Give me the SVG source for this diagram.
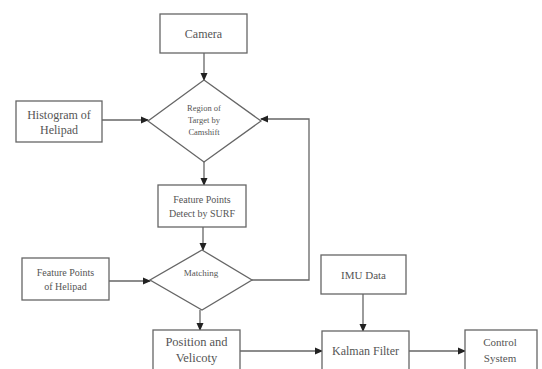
<svg xmlns="http://www.w3.org/2000/svg" width="542" height="369" viewBox="0 0 542 369">
<defs>
<style>
.b{fill:#fff;stroke:#666;stroke-width:1.3}
.t{font-family:'Times New Roman','Liberation Serif',serif;fill:#555;text-anchor:middle}
.c{fill:none;stroke:#666;stroke-width:1.3}
</style>
<marker id="a" markerWidth="8" markerHeight="8" refX="7" refY="4" orient="auto" markerUnits="userSpaceOnUse">
<path d="M0,0.5 L8,4 L0,7.5 Z" fill="#222"/>
</marker>
</defs>
<rect width="542" height="369" fill="#fff"/>
<g id="connectors">
<path class="c" d="M204,53 V80" marker-end="url(#a)"/>
<path class="c" d="M102,120 H148" marker-end="url(#a)"/>
<path class="c" d="M204,162 V185" marker-end="url(#a)"/>
<path class="c" d="M203,227 V250" marker-end="url(#a)"/>
<path class="c" d="M109,281 H150" marker-end="url(#a)"/>
<path class="c" d="M252,280 H309 V119 H261" marker-end="url(#a)"/>
<path class="c" d="M200,310 V330" marker-end="url(#a)"/>
<path class="c" d="M240,351 H322" marker-end="url(#a)"/>
<path class="c" d="M363,294 V331" marker-end="url(#a)"/>
<path class="c" d="M409,351 H465" marker-end="url(#a)"/>
</g>
<g id="camera"><rect class="b" x="160" y="14" width="87" height="39"/><text class="t" x="203.5" y="38" font-size="12">Camera</text></g>
<g id="region"><path class="b" d="M204,80 L261,121 L204,162 L148,121 Z"/><text class="t" font-size="8.5"><tspan x="204" y="111">Region of</tspan><tspan x="204" y="123">Target by</tspan><tspan x="204" y="135">Camshift</tspan></text></g>
<g id="histogram"><rect class="b" x="16" y="101" width="86" height="41"/><text class="t" font-size="12"><tspan x="59" y="119">Histogram of</tspan><tspan x="59" y="134">Helipad</tspan></text></g>
<g id="surf"><rect class="b" x="158" y="185" width="88" height="42"/><text class="t" font-size="10"><tspan x="202" y="203">Feature Points</tspan><tspan x="202" y="217">Detect by SURF</tspan></text></g>
<g id="matching"><path class="b" d="M202,250 L252,280 L202,310 L150,280 Z"/><text class="t" x="201" y="276" font-size="9">Matching</text></g>
<g id="featurehelipad"><rect class="b" x="22" y="258" width="87" height="42"/><text class="t" font-size="10"><tspan x="65.5" y="276">Feature Points</tspan><tspan x="65.5" y="290">of Helipad</tspan></text></g>
<g id="position"><rect class="b" x="153" y="330" width="87" height="42"/><text class="t" font-size="12.5"><tspan x="196.5" y="346">Position and</tspan><tspan x="196.5" y="362">Velicoty</tspan></text></g>
<g id="imu"><rect class="b" x="321" y="255" width="85" height="39"/><text class="t" x="363.5" y="279" font-size="11">IMU Data</text></g>
<g id="kalman"><rect class="b" x="322" y="331" width="87" height="41"/><text class="t" x="365.5" y="355" font-size="12">Kalman Filter</text></g>
<g id="control"><rect class="b" x="465" y="330" width="72" height="42"/><text class="t" font-size="11"><tspan x="500" y="346">Control</tspan><tspan x="500" y="362">System</tspan></text></g>
</svg>
